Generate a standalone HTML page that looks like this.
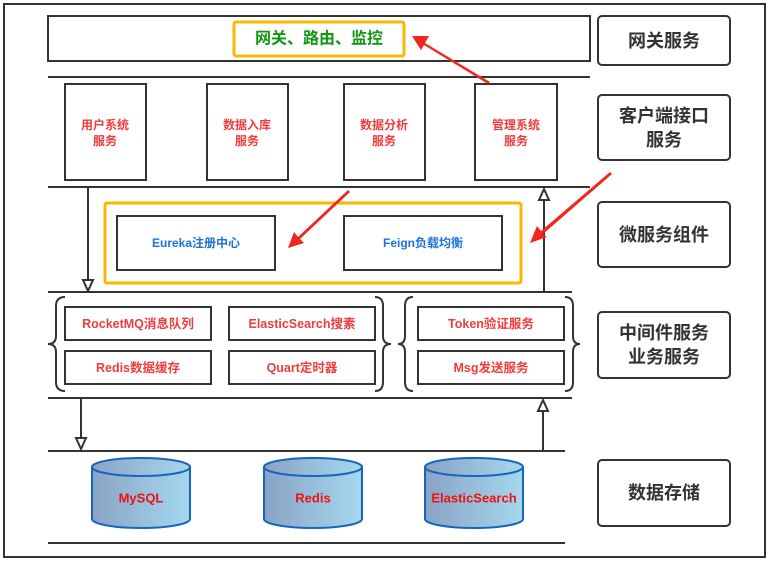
<!DOCTYPE html>
<html><head><meta charset="utf-8"><style>
html,body{margin:0;padding:0;background:#fff;width:773px;height:565px;overflow:hidden}
svg{display:block}
text{font-family:"Liberation Sans","Noto Sans CJK SC",sans-serif;font-weight:bold;text-anchor:middle;dominant-baseline:central}
</style></head><body>
<svg width="773" height="565" viewBox="0 0 773 565" xmlns="http://www.w3.org/2000/svg">
<defs>
<linearGradient id="cyl" x1="0" x2="1" y1="0" y2="0"><stop offset="0" stop-color="#8aa3c4"/><stop offset="1" stop-color="#a5d8ef"/></linearGradient>
<marker id="open" viewBox="0 0 12 14" refX="6" refY="1" markerWidth="12" markerHeight="14" orient="auto-start-reverse" markerUnits="userSpaceOnUse"></marker>
</defs>
<g fill="none" stroke="#333" stroke-width="2">
<rect x="4" y="4" width="761" height="553"/>
<rect x="48" y="16" width="542" height="45"/>
<line x1="48" y1="77" x2="590" y2="77"/>
<line x1="48" y1="187" x2="590" y2="187"/>
<line x1="48" y1="292" x2="572" y2="292"/>
<line x1="48" y1="398" x2="572" y2="398"/>
<line x1="48" y1="451" x2="565" y2="451"/>
<line x1="48" y1="543" x2="565" y2="543"/>
<rect x="65" y="84" width="81" height="96"/>
<rect x="207" y="84" width="81" height="96"/>
<rect x="344" y="84" width="81" height="96"/>
<rect x="475" y="84" width="82" height="96"/>
<rect x="117" y="216" width="158" height="54"/>
<rect x="344" y="216" width="158" height="54"/>
<rect x="65" y="307" width="146" height="33"/>
<rect x="229" y="307" width="146" height="33"/>
<rect x="65" y="351" width="146" height="33"/>
<rect x="229" y="351" width="146" height="33"/>
<rect x="418" y="307" width="146" height="33"/>
<rect x="418" y="351" width="146" height="33"/>
<rect x="598" y="16" width="132" height="49" rx="4"/>
<rect x="598" y="95" width="132" height="65" rx="4"/>
<rect x="598" y="202" width="132" height="65" rx="4"/>
<rect x="598" y="312" width="132" height="66" rx="4"/>
<rect x="598" y="460" width="132" height="66" rx="4"/>
<!-- braces -->
<path d="M65 297 Q56 297 56 306 L56 336 Q56 344 48 344 Q56 344 56 352 L56 382 Q56 391 65 391"/>
<path d="M375 297 Q383 297 383 306 L383 336 Q383 344 391 344 Q383 344 383 352 L383 382 Q383 391 375 391"/>
<path d="M413 297 Q405 297 405 306 L405 336 Q405 344 398 344 Q405 344 405 352 L405 382 Q405 391 413 391"/>
<path d="M565 297 Q573 297 573 306 L573 336 Q573 344 580 344 Q573 344 573 352 L573 382 Q573 391 565 391"/>
<!-- connectors -->
<line x1="88" y1="187" x2="88" y2="280"/>
<line x1="544" y1="292" x2="544" y2="200"/>
<line x1="81" y1="398" x2="81" y2="438"/>
<line x1="543" y1="451" x2="543" y2="411"/>
</g>
<g fill="#fff" stroke="#333" stroke-width="2">
<path d="M83 280 L93 280 L88 291 Z"/>
<path d="M539 200 L549 200 L544 189 Z"/>
<path d="M76 438 L86 438 L81 449 Z"/>
<path d="M538 411 L548 411 L543 400 Z"/>
</g>
<g fill="none" stroke="#fbb800" stroke-width="3">
<rect x="234" y="22" width="170" height="34" rx="2"/>
<rect x="105" y="203" width="416" height="80" rx="2"/>
</g>
<!-- cylinders -->
<g stroke="#1565c0" stroke-width="2" fill="url(#cyl)">
<path d="M92 467 L92 519 A49 9 0 0 0 190 519 L190 467"/><ellipse cx="141" cy="467" rx="49" ry="9"/>
<path d="M264 467 L264 519 A49 9 0 0 0 362 519 L362 467"/><ellipse cx="313" cy="467" rx="49" ry="9"/>
<path d="M425 467 L425 519 A49 9 0 0 0 523 519 L523 467"/><ellipse cx="474" cy="467" rx="49" ry="9"/>
</g>
<!-- red arrows -->
<g fill="#f0261f">
<path d="M490 82 L425 43 L429 36 L412 36 L421 50 L424 45 L488 84 Z"/>
<path d="M348 190 L298 237 L294 232 L288 248 L304 243 L300 239 L350 192 Z"/>
<path d="M610 172 L541 231 L537 226 L530 243 L547 237 L543 234 L612 174 Z"/>
</g>
<text x="319" y="39" fill="#109610" font-size="16">网关、路由、监控</text>
<g fill="#f03c3c" font-size="12">
<text x="105" y="125">用户系统</text><text x="105" y="141">服务</text>
<text x="247" y="125">数据入库</text><text x="247" y="141">服务</text>
<text x="384" y="125">数据分析</text><text x="384" y="141">服务</text>
<text x="516" y="125">管理系统</text><text x="516" y="141">服务</text>
</g>
<g fill="#1a73d9" font-size="12">
<text x="196" y="243">Eureka注册中心</text>
<text x="423" y="243">Feign负载均衡</text>
</g>
<g fill="#f03c3c" font-size="12.5">
<text x="138" y="324">RocketMQ消息队列</text>
<text x="302" y="324">ElasticSearch搜素</text>
<text x="138" y="368">Redis数据缓存</text>
<text x="302" y="368">Quart定时器</text>
<text x="491" y="324">Token验证服务</text>
<text x="491" y="368">Msg发送服务</text>
</g>
<g fill="#f01010" font-size="13">
<text x="141" y="498">MySQL</text>
<text x="313" y="498">Redis</text>
<text x="474" y="498">ElasticSearch</text>
</g>
<g fill="#333" font-size="18">
<text x="664" y="41">网关服务</text>
<text x="664" y="116">客户端接口</text><text x="664" y="140">服务</text>
<text x="664" y="235">微服务组件</text>
<text x="664" y="333">中间件服务</text><text x="664" y="357">业务服务</text>
<text x="664" y="493">数据存储</text>
</g>
</svg>
</body></html>
